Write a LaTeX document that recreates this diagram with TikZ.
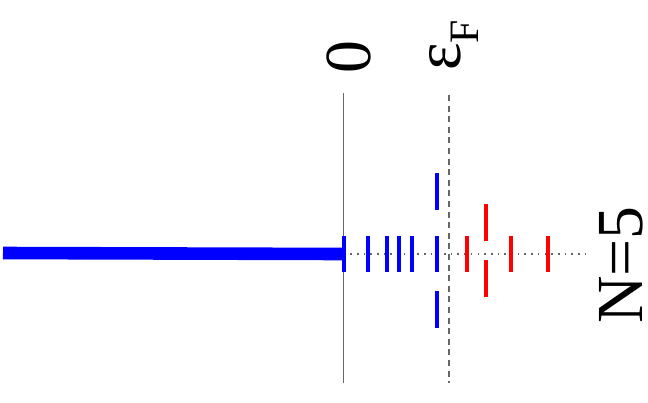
\documentclass[tikz,border=0pt]{standalone}
\usepackage{fontspec}
\setmainfont{Liberation Serif}
\begin{document}
\begin{tikzpicture}[x=1bp,y=-1bp,
  bluetick/.style={draw=blue,line width=4bp},
  redtick/.style={draw=red,line width=4bp},
  lbl/.style={rotate=90,inner sep=0pt,font=\fontsize{66}{70}\selectfont}]
\useasboundingbox (0,0) rectangle (648,402);
% axes
\coordinate (zt) at (343.5,93);
\coordinate (zb) at (343.5,383);
\coordinate (ft) at (449,95);
\coordinate (fb) at (449,383);
\coordinate (dl) at (343.5,254);
\coordinate (dr) at (587,254);
\coordinate (bl) at (3,253);
\draw[gray!80!black,line width=1.3bp] (zt) -- (zb);
\draw[gray!80!black,line width=1.3bp,dash pattern=on 6bp off 4.6bp] (ft) -- (fb);
\draw[gray!80!black,line width=1.6bp,dash pattern=on 1.6bp off 5.1bp] (dl) -- (dr);
% continuum bar
\draw[blue,line width=12.6bp] (bl) -- (dl);
% blue levels
\foreach \x in {343.5,368,387,399,411.7,436.7}
  \draw[bluetick] (\x,236) -- (\x,272);
\draw[bluetick] (436.7,173) -- (436.7,210);
\draw[bluetick] (436.7,291) -- (436.7,328);
% red levels
\foreach \x in {467.3,511,548}
  \draw[redtick] (\x,236) -- (\x,272);
\draw[redtick] (486,204) -- (486,241);
\draw[redtick] (486,260) -- (486,297);
% labels
\node[lbl,anchor=base] (zero) at (370,57) {0};
\node[lbl,anchor=base west] (eps) at (460,71) {ε\raisebox{-18bp}{\fontsize{42}{44}\selectfont F}};
\node[lbl,anchor=base] (nlab) at (642,265) {N=5};
\end{tikzpicture}
\end{document}
